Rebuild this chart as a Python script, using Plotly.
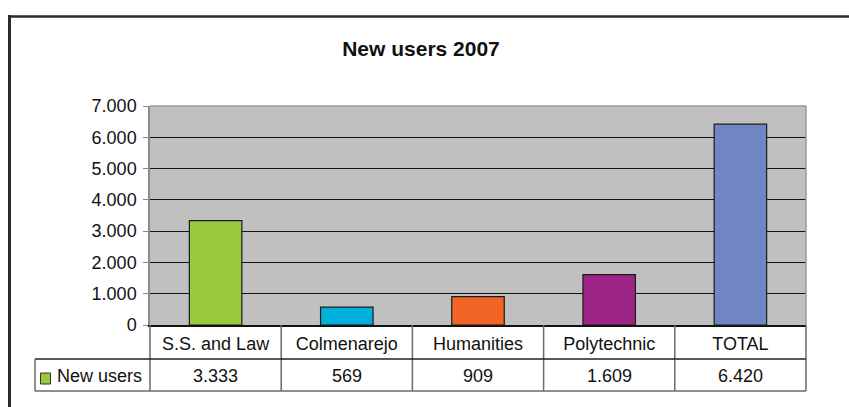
import plotly.graph_objects as go

# ---- data ----
categories = ["S.S. and Law", "Colmenarejo", "Humanities", "Polytechnic", "TOTAL"]
new_users = [3333, 569, 909, 1609, 6420]
bar_colors = ["#99C93C", "#00B0DA", "#F26524", "#9B2484", "#7086C4"]
series_name = "New users"
title_text = "New users 2007"
y_ticks = [0, 1000, 2000, 3000, 4000, 5000, 6000, 7000]

# ---- layout (pixels) ----
W, H = 849, 407
PL, PR, PT, PB = 150, 806, 106, 325  # plot area edges in px
FONT = "Liberation Sans, Arial, sans-serif"


def px_x(p):
    return (p - PL) / (PR - PL)


def px_y(p):
    return (PB - p) / (PB - PT)


def fmt(v):
    return f"{v:,}".replace(",", ".")


fig = go.Figure()
fig.add_trace(go.Bar(
    x=categories, y=new_users, name=series_name,
    marker=dict(color=bar_colors, line=dict(color="#1a1a1a", width=1.2)),
    showlegend=False,
))

shapes = []
n = len(categories)
GRAY = "#6a6a6a"
# table vertical dividers
for i in range(n + 1):
    shapes.append(dict(type="line", xref="paper", yref="paper",
                       x0=i / n, x1=i / n, y0=px_y(PB), y1=px_y(391),
                       line=dict(color=GRAY, width=1.5)))
# table horizontal lines
shapes.append(dict(type="line", xref="paper", yref="paper",
                   x0=px_x(35), x1=1, y0=px_y(359), y1=px_y(359),
                   line=dict(color="#222222", width=1.5)))
shapes.append(dict(type="line", xref="paper", yref="paper",
                   x0=px_x(35), x1=1, y0=px_y(391), y1=px_y(391),
                   line=dict(color=GRAY, width=1.5)))
shapes.append(dict(type="line", xref="paper", yref="paper",
                   x0=px_x(35), x1=px_x(35), y0=px_y(359), y1=px_y(391),
                   line=dict(color=GRAY, width=1.5)))
# plot area border (gray) top/right
shapes.append(dict(type="line", xref="paper", yref="paper",
                   x0=0, x1=1, y0=1, y1=1, line=dict(color="#9a9a9a", width=1.5)))
shapes.append(dict(type="line", xref="paper", yref="paper",
                   x0=1, x1=1, y0=0, y1=1, line=dict(color="#9a9a9a", width=1.5)))
# legend key
shapes.append(dict(type="rect", xref="paper", yref="paper",
                   x0=px_x(40.5), x1=px_x(50.5), y0=px_y(384), y1=px_y(373),
                   fillcolor=bar_colors[0], line=dict(color="#333333", width=1)))
# outer chart border
shapes.append(dict(type="line", xref="paper", yref="paper",
                   x0=px_x(9.5), x1=px_x(9.5), y0=px_y(15), y1=px_y(420),
                   line=dict(color="#2a2a2a", width=3)))
shapes.append(dict(type="line", xref="paper", yref="paper",
                   x0=px_x(8), x1=px_x(860), y0=px_y(16.5), y1=px_y(16.5),
                   line=dict(color="#2a2a2a", width=2.5)))

annotations = []
for c, v in zip(categories, new_users):
    annotations.append(dict(x=c, xref="x", y=px_y(376), yref="paper",
                            text=fmt(v), showarrow=False,
                            font=dict(family=FONT, size=18, color="#111111"),
                            xanchor="center", yanchor="middle"))
annotations.append(dict(x=px_x(55), xref="paper", y=px_y(376), yref="paper",
                        text=series_name, showarrow=False,
                        font=dict(family=FONT, size=18, color="#111111"),
                        xanchor="left", yanchor="middle"))

fig.update_layout(
    width=W, height=H,
    margin=dict(l=PL, r=W - PR, t=PT, b=H - PB, pad=0),
    paper_bgcolor="white", plot_bgcolor="#C0C0C0",
    separators=",.",
    bargap=0.6,
    title=dict(text=f"<b>{title_text}</b>", x=(421) / W, xanchor="center",
               y=1 - 49 / H, yanchor="middle",
               font=dict(family=FONT, size=21, color="#111111")),
    xaxis=dict(type="category", range=[-0.5, n - 0.5], showgrid=False,
               showline=True, linecolor="#111111", linewidth=1.5,
               ticks="", tickfont=dict(family=FONT, size=18, color="#111111"),
               ticklabelstandoff=2),
    yaxis=dict(range=[0, 7000], tickvals=y_ticks, tickformat=",d",
               showgrid=True, gridcolor="#111111", gridwidth=1,
               zeroline=False, showline=True, linecolor="#8a8a8a", linewidth=1.5,
               ticks="outside", ticklen=5, tickcolor="#8a8a8a",
               ticklabelstandoff=3,
               tickfont=dict(family=FONT, size=18, color="#111111")),
    shapes=shapes,
    annotations=annotations,
)

fig.write_html("out.html")
